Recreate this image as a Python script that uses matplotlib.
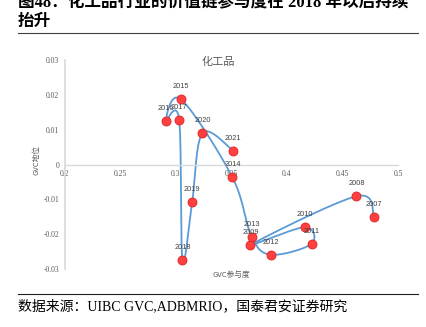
import numpy as np
import matplotlib
matplotlib.use("Agg")
import matplotlib.pyplot as plt

plt.rcParams['font.family'] = ['Noto Sans CJK SC', 'DejaVu Sans']

years = ['2007', '2008', '2009', '2010', '2011', '2012', '2013', '2014',
         '2015', '2016', '2017', '2018', '2019', '2020', '2021']
participation = [0.4785, 0.4626, 0.3670, 0.4158, 0.4221, 0.3859, 0.3682, 0.3508,
                 0.3046, 0.2908, 0.3028, 0.3058, 0.3145, 0.3238, 0.3514]
position = [-0.0151, -0.0091, -0.0231, -0.0180, -0.0228, -0.0259, -0.0208, -0.00365,
            0.0187, 0.01236, 0.0129, -0.0275, -0.0109, 0.0090, 0.0040]
x_ticks = [0.2, 0.25, 0.3, 0.35, 0.4, 0.45, 0.5]
x_tick_labels = ['0.2', '0.25', '0.3', '0.35', '0.4', '0.45', '0.5']
y_ticks = [-0.03, -0.02, -0.01, 0, 0.01, 0.02, 0.03]
y_tick_labels = ['-0.03', '-0.02', '-0.01', '0', '0.01', '0.02', '0.03']

fig = plt.figure(figsize=(4.26, 3.27), dpi=100)
ax = fig.add_axes([65/426, 1-269/327, 333/426, 209/327])
ax.set_xlim(0.2, 0.5)
ax.set_ylim(-0.03, 0.03)

# smooth curve (Catmull-Rom style, computed in pixel-scaled space)
sx = 333/0.3
sy = 209/0.06
P = np.column_stack([np.array(participation)*sx, np.array(position)*sy])
curve = []
n = len(P)
for i in range(n-1):
    p0 = P[i-1] if i > 0 else P[i]
    p1 = P[i]
    p2 = P[i+1]
    p3 = P[i+2] if i+2 < n else P[i+1]
    c1 = p1 + (p2 - p0)/6
    c2 = p2 - (p3 - p1)/6
    t = np.linspace(0, 1, 30)[:, None]
    seg = ((1-t)**3)*p1 + 3*((1-t)**2)*t*c1 + 3*(1-t)*(t**2)*c2 + (t**3)*p2
    curve.append(seg if i == 0 else seg[1:])
curve = np.vstack(curve)
ax.plot(curve[:, 0]/sx, curve[:, 1]/sy, color='#5B9BD5', lw=1.3, zorder=2)

ax.scatter(participation, position, s=42, color='#FF4040', edgecolors='#E02020',
           linewidths=0.6, zorder=3)
for xv, yv, lab in zip(participation, position, years):
    ax.annotate(lab, (xv, yv), xytext=(0, 6.5), textcoords='offset points',
                ha='center', va='bottom', fontsize=5.3, color='#404040',
                family=['Liberation Sans', 'DejaVu Sans'])

for s in ['top', 'right']:
    ax.spines[s].set_visible(False)
ax.spines['left'].set_position(('data', 0.2))
ax.spines['bottom'].set_position(('data', 0))
ax.spines['left'].set_color('#D9D9D9')
ax.spines['bottom'].set_color('#D9D9D9')
ax.spines['left'].set_linewidth(1.2)
ax.spines['bottom'].set_linewidth(1.0)
ax.set_xticks(x_ticks)
ax.set_xticklabels(x_tick_labels)
ax.set_yticks(y_ticks)
ax.set_yticklabels(y_tick_labels)
ax.tick_params(length=0, labelsize=5.5, labelcolor='#595959', pad=4)
for lbl in ax.get_xticklabels() + ax.get_yticklabels():
    lbl.set_family(['Liberation Serif', 'DejaVu Serif'])
ax.patch.set_alpha(0)

fig.text(218/426, 1-62/327, '化工品', ha='center', va='center', fontsize=8,
         color='#595959')
fig.text(231/426, 1-275/327, 'GVC参与度', ha='center', va='center', fontsize=5.5,
         color='#595959')
fig.text(36/426, 1-160/327, 'GVC地位', ha='center', va='center', fontsize=5.5,
         color='#595959', rotation=90)

serif_cjk = ['Liberation Serif', 'Noto Sans CJK SC', 'DejaVu Sans']
fig.text(18/426, 1-3/327, '图48：化工品行业的价值链参与度在 2018 年以后持续', ha='left',
         va='center', fontsize=12, fontweight='bold', color='black', family=serif_cjk)
fig.text(18/426, 1-22/327, '抬升', ha='left', va='center', fontsize=12,
         fontweight='bold', color='black', family=serif_cjk)
fig.add_artist(plt.Line2D([18/426, 418/426], [1-33/327, 1-33/327], color='#404040', lw=0.8))
fig.add_artist(plt.Line2D([18/426, 418/426], [1-294/327, 1-294/327], color='#202020', lw=0.8))
fig.text(18/426, 1-306/327, '数据来源：UIBC GVC,ADBMRIO，国泰君安证券研究', ha='left',
         va='center', fontsize=10, color='black', family=serif_cjk)

fig.savefig('out.png', dpi=100)
